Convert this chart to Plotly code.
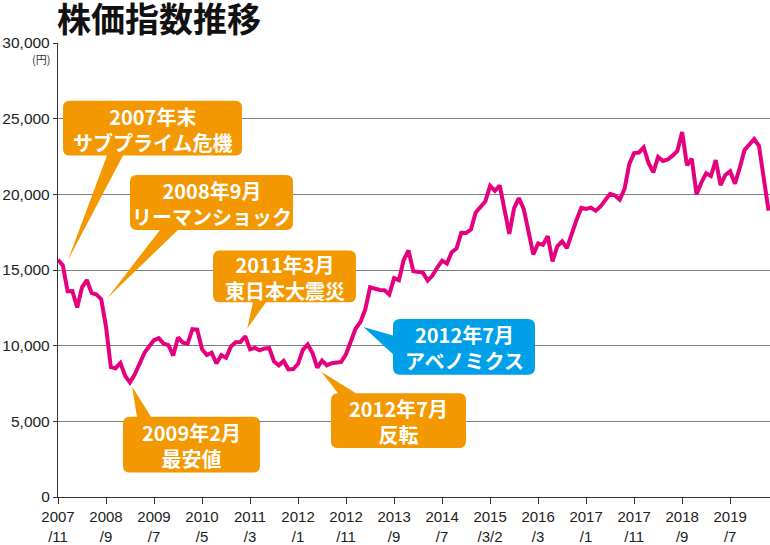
import plotly.graph_objects as go

# ---------------- data (monthly close, 2007/11 - 2020/3) ----------------
nikkei = [
    15681, 15308,
    13592, 13603, 12526, 13850, 14339, 13481, 13377, 13073, 11260, 8577, 8512, 8860,
    7994, 7568, 8110, 8828, 9523, 9958, 10357, 10493, 10133, 10035, 9346, 10546,
    10198, 10126, 11090, 11057, 9769, 9383, 9537, 8824, 9369, 9202, 9937, 10229,
    10238, 10624, 9755, 9850, 9694, 9816, 9833, 8955, 8700, 8988, 8435, 8455,
    8803, 9723, 10084, 9521, 8543, 9007, 8695, 8840, 8870, 8928, 9446, 10395,
    11139, 11559, 12398, 13861, 13775, 13677, 13668, 13389, 14456, 14328, 15662, 16291,
    14915, 14841, 14828, 14304, 14632, 15162, 15621, 15425, 16174, 16414, 17460, 17451,
    17674, 18798, 19207, 19520, 20563, 20236, 20585, 18890, 17388, 19083, 19747, 19034,
    17518, 16027, 16759, 16666, 17235, 15576, 16569, 16887, 16450, 17425, 18308, 19114,
    19041, 19119, 18909, 19197, 19651, 20033, 19925, 19646, 20356, 22012, 22725, 22765,
    23098, 22068, 21454, 22468, 22202, 22305, 22554, 22865, 24120, 21920, 22351, 20015,
    20773, 21385, 21206, 22259, 20601, 21276, 21522, 20704, 21756, 22927, 23294, 23657,
    23205, 21143, 18917,
]
months = list(range(len(nikkei)))

tick_vals = [0, 10, 20, 30, 40, 50, 60, 70, 80, 90, 100, 110, 120, 130, 140]
tick_years = ["2007", "2008", "2009", "2010", "2011", "2012", "2012", "2013",
              "2014", "2015", "2016", "2017", "2017", "2018", "2019"]
tick_months = ["/11", "/9", "/7", "/5", "/3", "/1", "/11", "/9",
               "/7", "/3/2", "/3", "/1", "/11", "/9", "/7"]
tick_text = [f"{a}<br>{b}" for a, b in zip(tick_years, tick_months)]
y_ticks = [0, 5000, 10000, 15000, 20000, 25000, 30000]

callout_texts = [
    "2007年末<br>サブプライム危機",
    "2008年9月<br>リーマンショック",
    "2011年3月<br>東日本大震災",
    "2009年2月<br>最安値",
    "2012年7月<br>反転",
    "2012年7月<br>アベノミクス",
]
callout_targets = [1, 9, 39, 15, 54, 63]   # month index each callout points to

# ---------------- layout geometry (pixels) ----------------
W, H = 770, 545
L, R, T, B = 58, 0, 43, 38
XR = [0, 148.3]
YR = [0, 30000]
PW, PH = W - L - R, H - T - B

def to_px(mx, v):
    return L + (mx - XR[0]) / (XR[1] - XR[0]) * PW, T + PH - (v - YR[0]) / (YR[1] - YR[0]) * PH

def to_data(px, py):
    return XR[0] + (px - L) / PW * (XR[1] - XR[0]), YR[0] + (T + PH - py) / PH * (YR[1] - YR[0])

ORANGE = "#F39800"
BLUE = "#00A0E9"

# box (x0,y0,x1,y1), pointer side, base (a,b), tip offset from target point, colour
callout_style = [
    ((63, 102, 242, 158), "bottom", (107, 123), (5, -5), ORANGE),
    ((130, 178, 293, 234), "bottom", (160, 178), (6, -1), ORANGE),
    ((213, 255, 356, 308), "bottom", (253, 266), (2, -8), ORANGE),
    ((123, 425, 260, 482), "top", (137, 151), (2, 4), ORANGE),
    ((331, 401, 466, 457), "top", (338, 356), (4, 4), ORANGE),
    ((393, 325, 535, 382), "left", (342, 361), (3, 5), BLUE),
]

def fmt(px, py):
    x, y = to_data(px, py)
    return f"{x:.4f},{y:.2f}"

def callout_path(box, side, base, tip, r=7):
    x0, y0, x1, y1 = box
    a, b = base
    tx, ty = tip
    p = [f"M{fmt(x0 + r, y0)}"]
    if side == "top":
        p += [f"L{fmt(a, y0)}", f"L{fmt(tx, ty)}", f"L{fmt(b, y0)}"]
    p += [f"L{fmt(x1 - r, y0)}", f"Q{fmt(x1, y0)} {fmt(x1, y0 + r)}"]
    p += [f"L{fmt(x1, y1 - r)}", f"Q{fmt(x1, y1)} {fmt(x1 - r, y1)}"]
    if side == "bottom":
        p += [f"L{fmt(b, y1)}", f"L{fmt(tx, ty)}", f"L{fmt(a, y1)}"]
    p += [f"L{fmt(x0 + r, y1)}", f"Q{fmt(x0, y1)} {fmt(x0, y1 - r)}"]
    if side == "left":
        p += [f"L{fmt(x0, b)}", f"L{fmt(tx, ty)}", f"L{fmt(x0, a)}"]
    p += [f"L{fmt(x0, y0 + r)}", f"Q{fmt(x0, y0)} {fmt(x0 + r, y0)}", "Z"]
    return " ".join(p)

fig = go.Figure()
fig.add_trace(go.Scatter(
    x=months, y=nikkei, mode="lines",
    line=dict(color="#E4007F", width=4, shape="linear"),
    hoverinfo="skip", showlegend=False,
))

shapes, annotations = [], []
for text, target, (box, side, base, off, col) in zip(callout_texts, callout_targets, callout_style):
    px, py = to_px(months[target], nikkei[target])
    tip = (px + off[0], py + off[1])
    shapes.append(dict(type="path", path=callout_path(box, side, base, tip),
                       xref="x", yref="y", fillcolor=col, line=dict(width=0), layer="above"))
    cx, cy = to_data((box[0] + box[2]) / 2, (box[1] + box[3]) / 2 + 1)
    annotations.append(dict(x=cx, y=cy, xref="x", yref="y", text=text, showarrow=False,
                            xanchor="center", yanchor="middle", align="center",
                            font=dict(family="Noto Sans CJK JP", size=20, color="white", weight="bold")))

# unit label
annotations.append(dict(x=(52 - L) / PW, y=(T + PH - 59) / PH, xref="paper", yref="paper",
                        text="(円)", showarrow=False, xanchor="right", yanchor="middle",
                        font=dict(family="Noto Sans CJK JP", size=11, color="#333333")))

fig.update_layout(
    width=W, height=H,
    margin=dict(l=L, r=R, t=T, b=B, pad=0),
    paper_bgcolor="white", plot_bgcolor="white",
    title=dict(text="株価指数推移", x=57 / W, xanchor="left", xref="container",
               y=1 - 20 / H, yanchor="middle", yref="container",
               font=dict(family="Noto Sans CJK JP", size=34, color="#111111", weight="bold")),
    shapes=shapes, annotations=annotations, showlegend=False,
)
fig.update_xaxes(range=XR, tickmode="array", tickvals=tick_vals, ticktext=tick_text,
                 showgrid=False, zeroline=False, showline=True, linecolor="#333333", linewidth=1.3,
                 ticks="outside", ticklen=6, tickcolor="#333333", tickwidth=1.2,
                 tickfont=dict(family="Liberation Sans", size=15, color="#222222"))
fig.update_yaxes(range=YR, tickmode="array", tickvals=y_ticks, tickformat=",",
                 showgrid=True, gridcolor="#808080", gridwidth=1.2, zeroline=False,
                 showline=True, linecolor="#333333", linewidth=1.3,
                 ticks="outside", ticklen=4, tickcolor="#333333", tickwidth=1.2,
                 tickfont=dict(family="Liberation Sans", size=15.5, color="#222222"))

fig.write_html("out.html")
